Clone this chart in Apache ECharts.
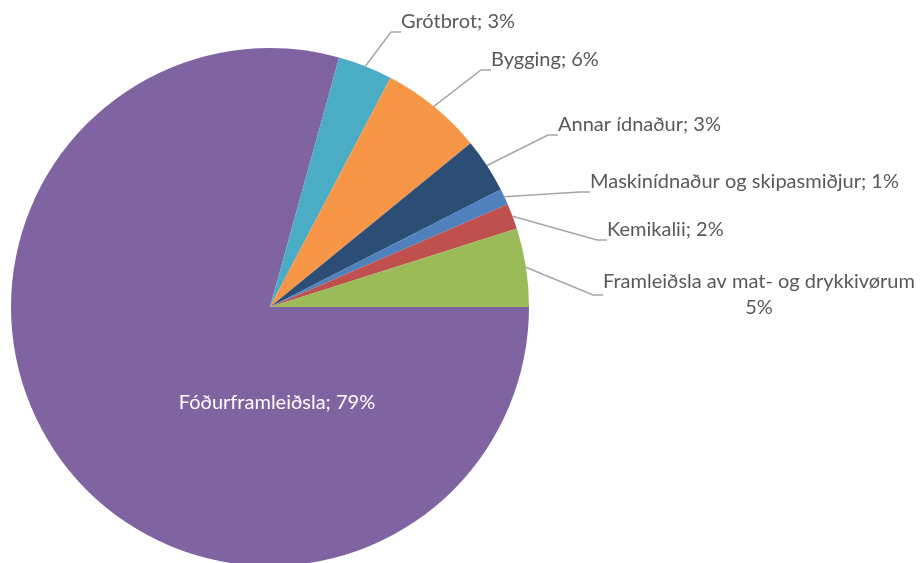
<!DOCTYPE html>
<html>
<head>
<meta charset="utf-8">
<script src="https://cdn.jsdelivr.net/npm/echarts@6/dist/echarts.min.js"></script>
<style>
  html, body { margin: 0; padding: 0; background: #fff; }
  #chart { width: 923px; height: 563px; }
</style>
</head>
<body>
<div id="chart"></div>
<script>
// slices, clockwise from 3 o'clock
var names = ['Fóðurframleiðsla', 'Grótbrot', 'Bygging', 'Annar ídnaður',
  'Maskinídnaður og skipasmiðjur', 'Kemikalii', 'Framleiðsla av mat- og drykkivørum']
var values = [79.3, 3.4, 6.4, 3.4, 1.0, 1.6, 4.9]
var colors = ['#8064A2', '#4BACC6', '#F79646', '#2C4D75', '#4F81BD', '#C0504D', '#9BBB59']

// where Excel put each label box (left edge / middle), purely layout
var labelPos = [
  {x: 277, y: 403, align: 'center'},
  {x: 397, y: 32, align: 'left'},
  {x: 487, y: 70, align: 'left'},
  {x: 554, y: 135, align: 'left'},
  {x: 586, y: 192, align: 'left'},
  {x: 603, y: 240, align: 'left'},
  {x: 759, y: 295, align: 'center'}
]

var myChart = echarts.init(document.getElementById('chart'))

var seriesData = names.map(function (n, i) {
  var item = {name: n, value: values[i], itemStyle: {color: colors[i]}}
  if (i === 0) {
    item.label = {position: 'inside', color: '#fff', padding: 0}
    item.labelLine = {show: false}
  }
  if (i === 6) {
    item.label = {align: 'center', lineHeight: 26, padding: 0}
  }
  return item
})

var option = {
  animation: false,
  series: [{
    type: 'pie',
    center: [270, 307],
    radius: 259,
    startAngle: 0,
    clockwise: true,
    avoidLabelOverlap: false,
    itemStyle: {borderWidth: 0},
    label: {
      fontFamily: 'Lato',
      fontSize: 20,
      color: '#595959',
      padding: [0, 0, 0, 4],
      rich: {
        gap: {height: 20, lineHeight: 20, fontSize: 2}
      },
      formatter: function (p) {
        var pct = Math.round(p.percent) + '%'
        if (p.dataIndex === 6) return p.name + '\n' + pct
        if (p.dataIndex === 0) return p.name + '; ' + pct
        return p.name + '; ' + pct + '\n{gap| }'
      }
    },
    labelLine: {
      show: true,
      length: 20,
      length2: 10,
      lineStyle: {color: '#A6A6A6', width: 1.5}
    },
    labelLayout: function (params) {
      var lp = labelPos[params.dataIndex]
      return {x: lp.x, y: lp.y, align: lp.align, verticalAlign: 'middle'}
    },
    data: seriesData
  }]
}

myChart.setOption(option)
</script>
</body>
</html>
